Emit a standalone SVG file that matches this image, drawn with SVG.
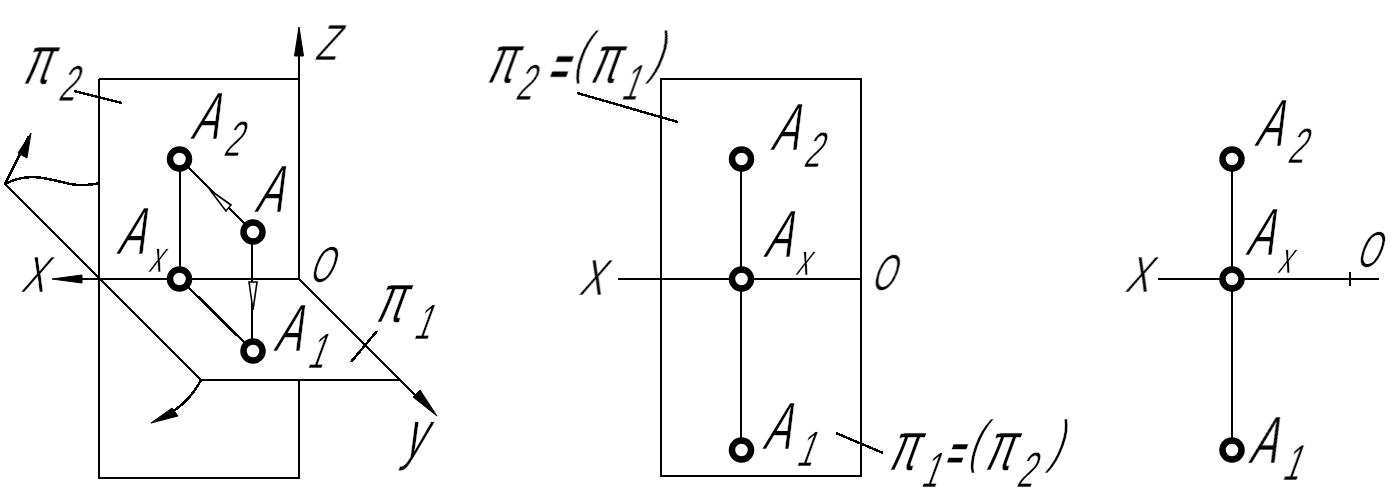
<svg xmlns="http://www.w3.org/2000/svg" width="1398" height="504" viewBox="0 0 1398 504">
<style>
.l{fill:none;stroke:#000;stroke-width:2;shape-rendering:crispEdges}
.d{fill:none;stroke:#000;stroke-width:2.500;shape-rendering:crispEdges}
.a{fill:#000;stroke:#000;stroke-width:1}
.h{fill:#fff;stroke:#000;stroke-width:1.600}
.p{fill:#fff;stroke:#000;stroke-width:6.500}
text{font-family:"Liberation Sans",Arial,sans-serif;font-size:67px;fill:#000;stroke:#fff;stroke-width:.6}
.s{font-size:50px}
.x{font-size:44px}
.u{font-size:51px}
.e{font-size:55px;font-weight:bold}
.f{font-size:50px;font-weight:bold}
.b{font-size:58px}
.n{font-size:70px}
</style>
<rect width="1398" height="504" fill="#fff"/>
<g id="labels" opacity=".999">
<text transform="translate(190,139) skewX(-20) scale(.6,1)">A<tspan class="s" dx="20" dy="17">2</tspan></text>
<text transform="translate(254,212) skewX(-20) scale(.6,1)">A</text>
<text transform="translate(116,254) skewX(-20) scale(.6,1)">A<tspan class="x" dx="19" dy="18">x</tspan></text>
<text transform="translate(273,351) skewX(-20) scale(.6,1)">A<tspan class="s" dx="21" dy="17">1</tspan></text>
<text class="u" transform="translate(20,292) skewX(-20) scale(.7,1)">X</text>
<text class="u" transform="translate(308,282) skewX(-20) scale(.58,1)">O</text>
<text class="u" transform="translate(314,60) skewX(-20) scale(.7,1)">Z</text>
<text transform="translate(402,457) skewX(-20) scale(.6,1)">y</text>
<text class="n" transform="translate(20,84) skewX(-20) scale(.6,1)">π<tspan class="s" dx="24" dy="17">2</tspan></text>
<text class="n" transform="translate(373,322) skewX(-20) scale(.6,1)">π<tspan class="s" dx="28" dy="17">1</tspan></text>
<text class="n" transform="translate(484,83) skewX(-20) scale(.6,1)">π<tspan class="s" x="61" y="17">2</tspan><tspan class="e" x="104" y="1.300">=</tspan><tspan class="b" x="141" y="-11">(</tspan><tspan x="172" y="0">π</tspan><tspan class="s" x="237" y="17">1</tspan><tspan class="b" x="268" y="-11">)</tspan></text>
<text transform="translate(770,150) skewX(-20) scale(.6,1)">A<tspan class="s" dx="20" dy="17">2</tspan></text>
<text transform="translate(763,257) skewX(-20) scale(.6,1)">A<tspan class="x" dx="19" dy="18">x</tspan></text>
<text transform="translate(762,449) skewX(-20) scale(.6,1)">A<tspan class="s" dx="21" dy="17">1</tspan></text>
<text class="u" transform="translate(578,295) skewX(-20) scale(.7,1)">X</text>
<text class="u" transform="translate(870,290) skewX(-20) scale(.58,1)">O</text>
<text class="n" transform="translate(886,470) skewX(-20) scale(.6,1)">π<tspan class="s" x="67" y="17">1</tspan><tspan class="f" x="94.500" y="0">=</tspan><tspan class="b" x="130" y="-9">(</tspan><tspan x="160" y="0">π</tspan><tspan class="s" x="226" y="17">2</tspan><tspan class="b" x="266" y="-9">)</tspan></text>
<text transform="translate(1254,146) skewX(-20) scale(.6,1)">A<tspan class="s" dx="20" dy="17">2</tspan></text>
<text transform="translate(1245,255) skewX(-20) scale(.6,1)">A<tspan class="x" dx="19" dy="18">x</tspan></text>
<text transform="translate(1248,463) skewX(-20) scale(.6,1)">A<tspan class="s" dx="21" dy="17">1</tspan></text>
<text class="u" transform="translate(1124,292) skewX(-20) scale(.7,1)">X</text>
<text class="u" transform="translate(1355,267) skewX(-20) scale(.58,1)">O</text>
</g>
<g id="connectors">
<path class="l" d="M99 79H299M99 79V478H299V381M299 30V279M60 279H299M201 380H400"/>
<path class="d" d="M5 184L201 380M299 279L430 410"/>
<path class="d" d="M5 184L29 136M5 184C28 172 45 178 70 184C82 186 92 185 100 183M201 380C193 396 180 409 160 419"/>
<path class="l" d="M180 159V279M252 232V351"/>
<path class="d" d="M180 159L253 232M180 279L253 351M74 91L122 103M351 362L377 331"/>
<path class="l" d="M661 79H861V476H661ZM618 279H861M741 159V450"/>
<path class="d" d="M577 93L678 122M836 433L883 453"/>
<path class="l" d="M1158 279H1379M1232 159V450M1350 272V286"/>
<polygon class="a" points="299,27 294.500,56 303.500,56"/>
<polygon class="a" points="52,279 82,275 82,283"/>
<polygon class="a" points="31,133 18,153 27,158"/>
<polygon class="a" points="437,416 413,397 420,390"/>
<polygon class="a" points="151,423 172,408 178,416"/>
<polygon class="h" points="210,190 231,205 226,211"/>
<polygon class="h" points="253,310 249,282 257,282"/>
</g>
<g id="node-A2"><circle class="p" cx="179.500" cy="159" r="9.500"/></g>
<g id="node-A"><circle class="p" cx="253" cy="232" r="9.500"/></g>
<g id="node-Ax"><circle class="p" cx="179.500" cy="279" r="9.500"/></g>
<g id="node-A1"><circle class="p" cx="253" cy="351" r="9.500"/></g>
<g id="node-A2-m"><circle class="p" cx="741.500" cy="159" r="9.500"/></g>
<g id="node-Ax-m"><circle class="p" cx="741.500" cy="279" r="9.500"/></g>
<g id="node-A1-m"><circle class="p" cx="741.500" cy="450" r="9.500"/></g>
<g id="node-A2-r"><circle class="p" cx="1232" cy="159" r="9.500"/></g>
<g id="node-Ax-r"><circle class="p" cx="1232" cy="279" r="9.500"/></g>
<g id="node-A1-r"><circle class="p" cx="1232" cy="450" r="9.500"/></g>
</svg>
